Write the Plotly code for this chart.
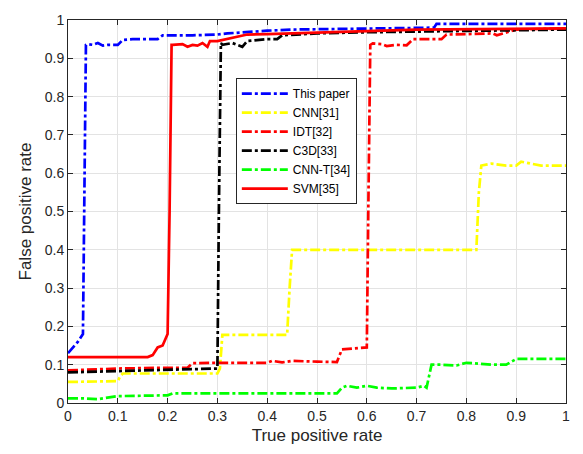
import plotly.graph_objects as go

tick_vals = [0, 0.1, 0.2, 0.3, 0.4, 0.5, 0.6, 0.7, 0.8, 0.9, 1]
tick_text = ["0", "0.1", "0.2", "0.3", "0.4", "0.5", "0.6", "0.7", "0.8", "0.9", "1"]

this_x = [0, 0.01, 0.02, 0.03, 0.033, 0.036, 0.04, 0.05, 0.06, 0.07, 0.08, 0.1, 0.11, 0.13, 0.18, 0.19, 0.25, 0.3, 0.32, 0.35, 0.38, 0.4, 0.45, 0.6, 0.735, 0.74, 1.0]
this_y = [0.13, 0.145, 0.16, 0.18, 0.5, 0.935, 0.937, 0.935, 0.94, 0.933, 0.935, 0.935, 0.948, 0.95, 0.95, 0.96, 0.96, 0.962, 0.965, 0.968, 0.97, 0.972, 0.975, 0.978, 0.98, 0.99, 0.99]

cnn_x = [0, 0.1, 0.105, 0.11, 0.3, 0.305, 0.31, 0.44, 0.445, 0.45, 0.82, 0.825, 0.83, 0.85, 0.88, 0.9, 0.91, 0.95, 1.0]
cnn_y = [0.055, 0.057, 0.07, 0.077, 0.077, 0.09, 0.178, 0.178, 0.3, 0.4, 0.4, 0.55, 0.62, 0.625, 0.62, 0.62, 0.63, 0.62, 0.62]

idt_x = [0, 0.1, 0.2, 0.24, 0.25, 0.3, 0.4, 0.41, 0.43, 0.45, 0.5, 0.54, 0.55, 0.6, 0.603, 0.607, 0.612, 0.63, 0.64, 0.66, 0.68, 0.693, 0.75, 0.76, 0.8, 0.853, 0.861, 0.884, 0.9, 1.0]
idt_y = [0.085, 0.09, 0.092, 0.092, 0.104, 0.105, 0.105, 0.11, 0.106, 0.11, 0.108, 0.107, 0.14, 0.145, 0.5, 0.935, 0.939, 0.937, 0.932, 0.935, 0.934, 0.95, 0.95, 0.962, 0.963, 0.965, 0.96, 0.97, 0.975, 0.978]

c3d_x = [0, 0.1, 0.2, 0.3, 0.303, 0.307, 0.31, 0.33, 0.35, 0.36, 0.4, 0.42, 0.43, 0.5, 0.6, 0.8, 1.0]
c3d_y = [0.08, 0.083, 0.086, 0.09, 0.5, 0.94, 0.935, 0.94, 0.93, 0.945, 0.95, 0.95, 0.96, 0.965, 0.968, 0.972, 0.975]

cnnt_x = [0, 0.03, 0.06, 0.08, 0.1, 0.2, 0.21, 0.3, 0.4, 0.54, 0.55, 0.56, 0.58, 0.6, 0.62, 0.65, 0.7, 0.715, 0.72, 0.73, 0.75, 0.78, 0.8, 0.85, 0.88, 0.9, 0.95, 1.0]
cnnt_y = [0.012, 0.012, 0.01, 0.015, 0.018, 0.02, 0.025, 0.025, 0.025, 0.025, 0.04, 0.045, 0.04, 0.045, 0.04, 0.038, 0.04, 0.045, 0.04, 0.1, 0.1, 0.098, 0.105, 0.1, 0.1, 0.115, 0.115, 0.115]

svm_x = [0, 0.05, 0.16, 0.17, 0.18, 0.19, 0.2, 0.204, 0.208, 0.21, 0.23, 0.24, 0.25, 0.26, 0.27, 0.28, 0.285, 0.3, 0.32, 0.36, 0.4, 0.5, 0.6, 0.7, 1.0]
svm_y = [0.12, 0.12, 0.12, 0.125, 0.145, 0.15, 0.18, 0.5, 0.935, 0.935, 0.937, 0.93, 0.935, 0.933, 0.94, 0.93, 0.945, 0.945, 0.95, 0.962, 0.963, 0.967, 0.97, 0.975, 0.978]

dd = "10px,3px,3px,3px"
series = [
    ("This paper", this_x, this_y, "#0000ff", dd),
    ("CNN[31]", cnn_x, cnn_y, "#ffff00", dd),
    ("IDT[32]", idt_x, idt_y, "#ff0000", dd),
    ("C3D[33]", c3d_x, c3d_y, "#000000", dd),
    ("CNN-T[34]", cnnt_x, cnnt_y, "#00ff00", dd),
    ("SVM[35]", svm_x, svm_y, "#ff0000", "solid"),
]

fig = go.Figure()
for name, xs, ys, col, dash in series:
    fig.add_trace(go.Scatter(x=xs, y=ys, mode="lines", name=name,
                             line=dict(color=col, width=2.7, dash=dash)))

axis_common = dict(
    range=[0, 1], tickvals=tick_vals, ticktext=tick_text,
    showgrid=True, gridcolor="#e3e3e3", gridwidth=1,
    showline=True, linecolor="#262626", linewidth=1, mirror="ticks",
    ticks="inside", ticklen=5, tickcolor="#262626",
    tickfont=dict(family="Liberation Sans, Arial", size=14, color="#262626"),
    zeroline=False,
)

fig.update_layout(
    width=583, height=454,
    margin=dict(l=68, r=17, t=12, b=50),
    paper_bgcolor="white", plot_bgcolor="white",
    font=dict(family="Liberation Sans, Arial", size=13, color="#262626"),
    xaxis=dict(title=dict(text="True positive rate", font=dict(size=17), standoff=6), **axis_common),
    yaxis=dict(title=dict(text="False positive rate", font=dict(size=17), standoff=8), **axis_common),
    legend=dict(x=0.337, y=0.848, xanchor="left", yanchor="top",
                bgcolor="white", bordercolor="#262626", borderwidth=1,
                font=dict(size=12, color="#000000"), tracegroupgap=0,
                itemwidth=46),
    showlegend=True,
)

fig.write_html("out.html")
